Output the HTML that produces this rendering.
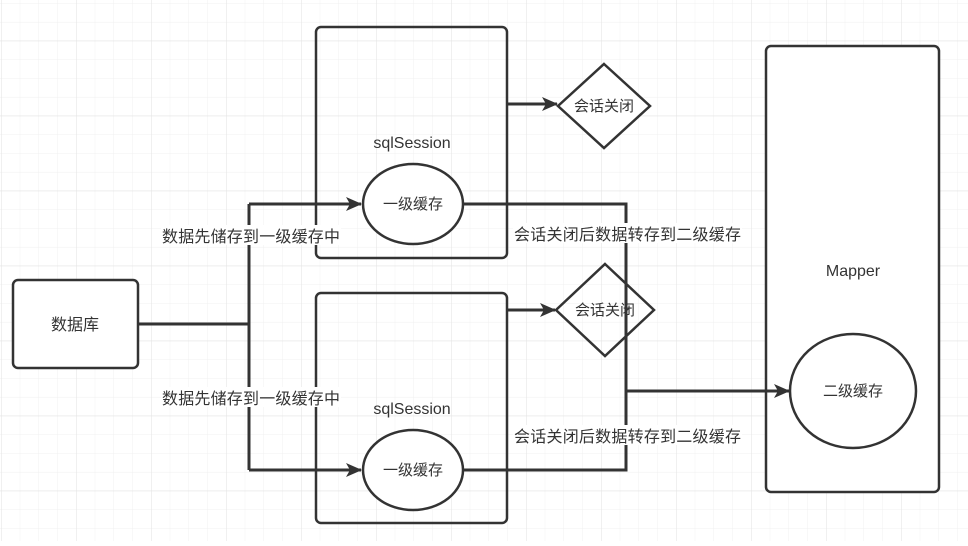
<!DOCTYPE html>
<html><head><meta charset="utf-8"><style>
html,body{margin:0;padding:0;}
body{width:968px;height:541px;overflow:hidden;background:#fff;}
</style></head><body>
<svg width="968" height="541" xmlns="http://www.w3.org/2000/svg" font-family="Liberation Sans, Noto Sans CJK SC, sans-serif">
<defs>
<pattern id="minor" x="1" y="3.2" width="18.75" height="18.75" patternUnits="userSpaceOnUse">
<path d="M0 0H18.75M0 0V18.75" stroke="#f0f0f0" stroke-width="1" fill="none"/>
</pattern>
<pattern id="major" x="1" y="40.7" width="75" height="75" patternUnits="userSpaceOnUse">
<path d="M0 0H75M0 0V75" stroke="#e2e2e2" stroke-width="1" fill="none"/>
</pattern>
<marker id="ar" markerWidth="16" markerHeight="14" refX="15" refY="7" orient="auto" markerUnits="userSpaceOnUse">
<path d="M0 0L16 7L0 14L4 7Z" fill="#333"/>
</marker>
</defs>
<rect width="968" height="541" fill="url(#minor)"/>
<rect width="968" height="541" fill="url(#major)"/>
<g stroke="#333" stroke-width="2.5" fill="#fff">
<rect x="13" y="280" width="125" height="88" rx="5"/>
<rect x="316" y="27" width="191" height="231" rx="5" fill="none"/>
<rect x="316" y="293" width="191" height="230" rx="5" fill="none"/>
<path d="M604 64L650 106L604 148L558 106Z"/>
<path d="M605 264L654 310L605 356L556 310Z" fill="none"/>
<rect x="766" y="46" width="173" height="446" rx="5"/>
</g>
<g stroke="#333" stroke-width="3" fill="none">
<path d="M138 324H249"/>
<path d="M249 204V470"/>
<path d="M249 204H361" marker-end="url(#ar)"/>
<path d="M249 470H361" marker-end="url(#ar)"/>
<path d="M463 204H626V470H463"/>
<path d="M626 391H789" marker-end="url(#ar)"/>
<path d="M508 104H557" marker-end="url(#ar)"/>
<path d="M508 310H555" marker-end="url(#ar)"/>
</g>
<g stroke="#333" stroke-width="2.5" fill="#fff">
<ellipse cx="413" cy="204" rx="50" ry="40"/>
<ellipse cx="413" cy="470" rx="50" ry="40"/>
<ellipse cx="853" cy="391" rx="63" ry="57"/>
</g>
<g fill="#333" font-size="16" text-anchor="middle">
<text x="75" y="330">数据库</text>
<text x="412" y="148">sqlSession</text>
<text x="412" y="414">sqlSession</text>
<text x="413" y="209" font-size="15">一级缓存</text>
<text x="413" y="475" font-size="15">一级缓存</text>
<text x="604" y="111" font-size="15">会话关闭</text>
<text x="605" y="315" font-size="15">会话关闭</text>
<text x="853" y="276">Mapper</text>
<text x="853" y="396" font-size="15">二级缓存</text>
</g>
<g font-size="16" fill="#333">
<rect x="161" y="225" width="180" height="20" fill="#fff"/>
<text x="162" y="242" textLength="178">数据先储存到一级缓存中</text>
<rect x="161" y="387" width="180" height="20" fill="#fff"/>
<text x="162" y="404" textLength="178">数据先储存到一级缓存中</text>
<rect x="513" y="223" width="229" height="20" fill="#fff"/>
<text x="514" y="240" textLength="227">会话关闭后数据转存到二级缓存</text>
<rect x="513" y="425" width="229" height="20" fill="#fff"/>
<text x="514" y="442" textLength="227">会话关闭后数据转存到二级缓存</text>
</g>
</svg>
</body></html>
